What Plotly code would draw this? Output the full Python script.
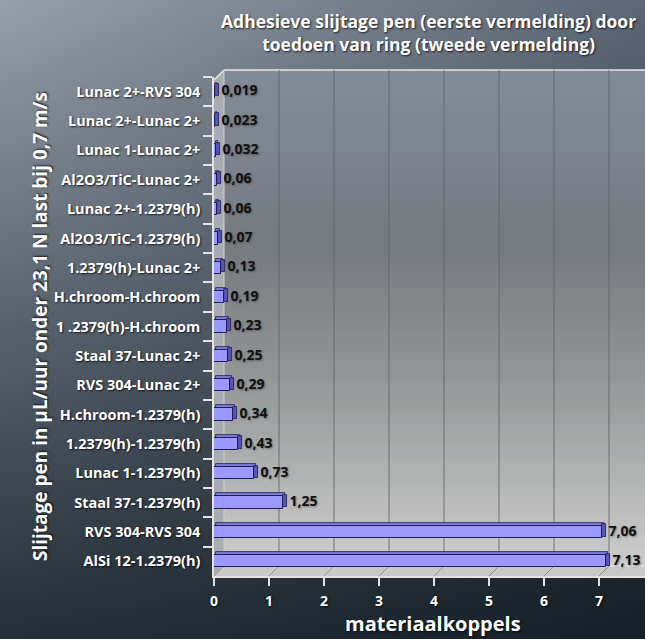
import base64, struct, zlib
import plotly.graph_objects as go

# ---------------- data ----------------
categories = ["Lunac 2+-RVS 304", "Lunac 2+-Lunac 2+", "Lunac 1-Lunac 2+",
              "Al2O3/TiC-Lunac 2+", "Lunac 2+-1.2379(h)", "Al2O3/TiC-1.2379(h)",
              "1.2379(h)-Lunac 2+", "H.chroom-H.chroom", "1 .2379(h)-H.chroom",
              "Staal 37-Lunac 2+", "RVS 304-Lunac 2+", "H.chroom-1.2379(h)",
              "1.2379(h)-1.2379(h)", "Lunac 1-1.2379(h)", "Staal 37-1.2379(h)",
              "RVS 304-RVS 304", "AlSi 12-1.2379(h)"]
values = [0.019, 0.023, 0.032, 0.06, 0.06, 0.07, 0.13, 0.19, 0.23, 0.25,
          0.29, 0.34, 0.43, 0.73, 1.25, 7.06, 7.13]
value_labels = ["0,019", "0,023", "0,032", "0,06", "0,06", "0,07", "0,13", "0,19",
                "0,23", "0,25", "0,29", "0,34", "0,43", "0,73", "1,25", "7,06", "7,13"]
x_ticks = [0, 1, 2, 3, 4, 5, 6, 7]

title_text = "Adhesieve slijtage pen (eerste vermelding) door<br>toedoen van ring (tweede vermelding)"
y_title = "Slijtage pen in µL/uur onder 23,1 N last bij 0,7 m/s"
x_title = "materiaalkoppels"

# ---------------- layout geometry ----------------
W, H = 645, 639
ML, MR, MT, MB = 214, 0, 77, 63
PW, PH = W - ML - MR, H - MT - MB
PX_PER_UNIT = 55.0
XMAX = PW / PX_PER_UNIT
DEPTH_X, DEPTH_Y = 10, 10          # 3D wall offset in px
BAR_DX = 4 / PX_PER_UNIT           # bar side depth (data units)
BAR_DY = 3 / 29.3                  # bar top depth (category units)
BAR_W = 0.42

def px_to_paper_x(px):
    return (px - ML) / PW

def px_to_paper_y(py):
    return (H - MB - py) / PH

FONT = "Open Sans"
SHADOW = "1px 1px 2px rgba(0,0,0,0.75)"


def lerp_stops(stops, t):
    for (t0, c0), (t1, c1) in zip(stops, stops[1:]):
        if t <= t1:
            f = 0 if t1 == t0 else (t - t0) / (t1 - t0)
            return tuple(c0[k] + (c1[k] - c0[k]) * f for k in range(3))
    return stops[-1][1]


def png_uri(w, h, fn):
    raw = bytearray()
    for j in range(h):
        raw.append(0)
        for i in range(w):
            r, g, b = fn(i / (w - 1), j / (h - 1))
            raw += bytes((int(r), int(g), int(b)))

    def chunk(t, d):
        return struct.pack(">I", len(d)) + t + d + struct.pack(">I", zlib.crc32(t + d) & 0xffffffff)

    png = (b"\x89PNG\r\n\x1a\n" + chunk(b"IHDR", struct.pack(">IIBBBBB", w, h, 8, 2, 0, 0, 0))
           + chunk(b"IDAT", zlib.compress(bytes(raw))) + chunk(b"IEND", b""))
    return "data:image/png;base64," + base64.b64encode(png).decode()


bg_left = [(0, (150, 158, 168)), (0.5, (90, 100, 112)), (1, (38, 48, 56))]
bg_right = [(0, (92, 104, 118)), (0.5, (55, 65, 75)), (1, (22, 32, 38))]


def bg_fn(u, v):
    a = lerp_stops(bg_left, v)
    b = lerp_stops(bg_right, v)
    return tuple(a[k] + (b[k] - a[k]) * u for k in range(3))


wall_stops = [(0, (130, 140, 152)), (0.35, (118, 123, 128)), (0.62, (148, 150, 151)), (1, (205, 205, 205))]


def wall_fn(u, v):
    return lerp_stops(wall_stops, v)


bg_img = png_uri(32, 48, bg_fn)
wall_img = png_uri(4, 64, wall_fn)

fig = go.Figure()

# top face of bars
fig.add_trace(go.Bar(
    y=categories, x=values, base=[BAR_DX / 2] * len(values), orientation="h",
    width=BAR_DY, offset=-BAR_W / 2 - BAR_DY,
    marker=dict(color="#7d7ddc", line=dict(color="#1e1e50", width=0.8)),
    hoverinfo="skip", showlegend=False))
# side face of bars (carries value labels)
fig.add_trace(go.Bar(
    y=categories, x=[BAR_DX] * len(values), base=values, orientation="h",
    width=BAR_W, offset=-BAR_W / 2 - BAR_DY * 0.5,
    marker=dict(color="#5656b0", line=dict(color="#1e1e50", width=0.8)),
    text=value_labels, textposition="outside", constraintext="none", cliponaxis=False,
    textfont=dict(family=FONT, size=14, color="#111111", weight="bold",
                  shadow="1px 1px 2px rgba(0,0,0,0.35)"),
    hoverinfo="skip", showlegend=False))
# front face of bars
fig.add_trace(go.Bar(
    y=categories, x=values, orientation="h", width=BAR_W, offset=-BAR_W / 2,
    marker=dict(color="#9999ff", line=dict(color="#1e1e50", width=1)),
    hovertemplate="%{y}: %{x}<extra></extra>", showlegend=False))

wx0 = px_to_paper_x(ML + DEPTH_X)
wy_top = px_to_paper_y(MT - 7)
wy_bot = px_to_paper_y(H - MB - DEPTH_Y)
ly_top = px_to_paper_y(MT + 3)

images = [
    dict(source=bg_img, xref="paper", yref="paper", x=px_to_paper_x(0), y=px_to_paper_y(0),
         sizex=W / PW, sizey=H / PH, xanchor="left", yanchor="top", sizing="stretch", layer="below"),
    dict(source=wall_img, xref="paper", yref="paper", x=wx0, y=wy_top,
         sizex=1 - wx0, sizey=wy_top - wy_bot, xanchor="left", yanchor="top", sizing="stretch", layer="below"),
]

shapes = [
    # left wall
    dict(type="path", xref="paper", yref="paper", layer="below",
         path=f"M 0 0 L 0 {ly_top} L {wx0} {wy_top} L {wx0} {wy_bot} Z",
         fillcolor="#a9acb0", line=dict(width=0)),
    # floor
    dict(type="path", xref="paper", yref="paper", layer="below",
         path=f"M 0 0 L {wx0} {wy_bot} L 1 {wy_bot} L 1 0 Z",
         fillcolor="#c9c9c9", line=dict(width=0)),
    # top edges
    dict(type="line", xref="paper", yref="paper", layer="below", x0=wx0, x1=1, y0=wy_top, y1=wy_top,
         line=dict(color="#e6e6e6", width=1.5)),
    dict(type="line", xref="paper", yref="paper", layer="below", x0=0, x1=wx0, y0=ly_top, y1=wy_top,
         line=dict(color="#e6e6e6", width=1.5)),
    dict(type="line", xref="paper", yref="paper", layer="below", x0=wx0, x1=wx0, y0=wy_bot, y1=wy_top,
         line=dict(color="#d0d0d0", width=1)),
    dict(type="line", xref="paper", yref="paper", layer="below", x0=wx0, x1=1, y0=wy_bot, y1=wy_bot,
         line=dict(color="#e8e8e8", width=1)),
]
shift = DEPTH_X / PX_PER_UNIT
for t in x_ticks[1:]:
    shapes.append(dict(type="line", xref="x", yref="paper", layer="below",
                       x0=t + shift, x1=t + shift, y0=wy_bot, y1=wy_top,
                       line=dict(color="rgba(95,98,100,0.55)", width=1.5)))
    shapes.append(dict(type="line", xref="x", yref="paper", layer="below",
                       x0=t, x1=t + shift, y0=0, y1=wy_bot,
                       line=dict(color="rgba(120,120,120,0.7)", width=1)))

annotations = [
    dict(text=title_text, xref="paper", yref="paper", x=px_to_paper_x(428), y=px_to_paper_y(33),
         xanchor="center", yanchor="middle", showarrow=False,
         font=dict(family=FONT, size=17.5, color="white", weight="bold", shadow=SHADOW)),
    dict(text=y_title, xref="paper", yref="paper", x=px_to_paper_x(40), y=px_to_paper_y(327),
         xanchor="center", yanchor="middle", showarrow=False, textangle=-90,
         font=dict(family=FONT, size=19, color="white", weight="bold", shadow=SHADOW)),
    dict(text=x_title, xref="paper", yref="paper", x=px_to_paper_x(433), y=px_to_paper_y(623),
         xanchor="center", yanchor="middle", showarrow=False,
         font=dict(family=FONT, size=20, color="white", weight="bold", shadow=SHADOW)),
]

fig.update_layout(
    width=W, height=H, margin=dict(l=ML, r=MR, t=MT, b=MB),
    paper_bgcolor="#3a4550", plot_bgcolor="rgba(0,0,0,0)",
    barmode="overlay", bargap=0,
    images=images, shapes=shapes, annotations=annotations,
    xaxis=dict(range=[0, XMAX], tickvals=x_ticks, ticktext=[str(t) for t in x_ticks],
               showgrid=False, zeroline=False, showline=True, linecolor="#e2e2e2", linewidth=1.5,
               ticks="outside", ticklen=8, tickcolor="#e2e2e2", tickwidth=1.5, ticklabelstandoff=3,
               tickfont=dict(family=FONT, size=14, color="white", weight="bold", shadow=SHADOW),
               fixedrange=True),
    yaxis=dict(type="category", autorange="reversed", categoryorder="array", categoryarray=categories,
               showgrid=False, zeroline=False, showline=True, linecolor="#e2e2e2", linewidth=1.5,
               ticks="outside", tickson="boundaries", ticklen=9, tickcolor="#e2e2e2", tickwidth=1.5,
               ticklabelstandoff=9,
               tickfont=dict(family=FONT, size=14.5, color="white", weight="bold", shadow=SHADOW),
               fixedrange=True),
)

fig.write_html("out.html")
